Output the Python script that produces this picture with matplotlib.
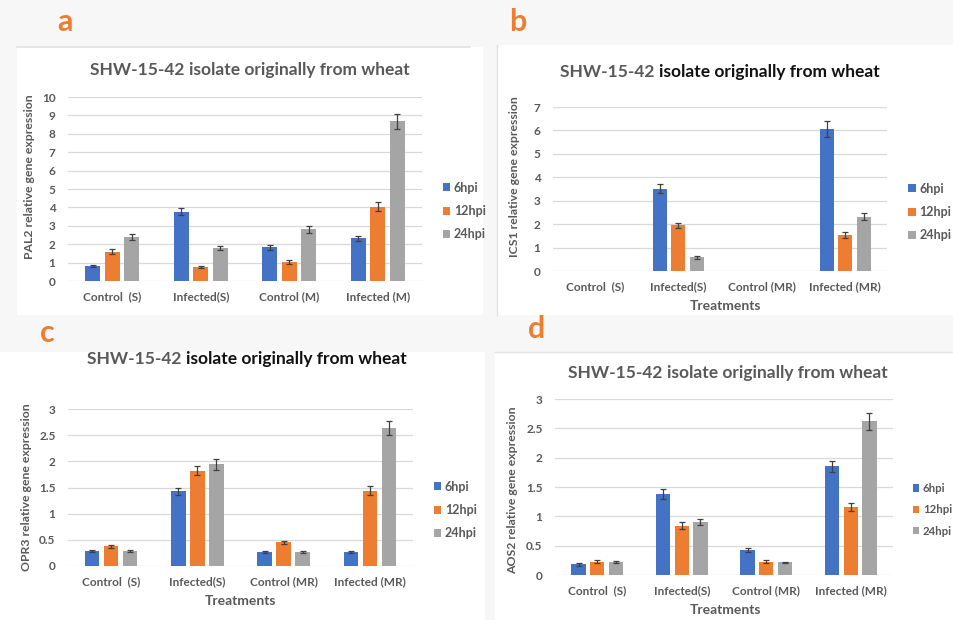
import matplotlib.pyplot as plt
import numpy as np
from matplotlib.patches import Rectangle
from matplotlib.lines import Line2D

plt.rcParams["font.family"] = ["Lato", "DejaVu Sans"]

C_BLUE = "#4472C4"
C_ORANGE = "#ED7D31"
C_GREY = "#A5A5A5"
C_TEXT = "#595959"
C_GRID = "#D9D9D9"
C_ERR = "#404040"

series = ["6hpi", "12hpi", "24hpi"]
colors = [C_BLUE, C_ORANGE, C_GREY]

cats_a = ["Control  (S)", "Infected(S)", "Control (M)", "Infected (M)"]
cats_mr = ["Control  (S)", "Infected(S)", "Control (MR)", "Infected (MR)"]

# PAL2 (panel a): rows = treatments, cols = 6/12/24 hpi
pal2 = [[0.83, 1.60, 2.40], [3.77, 0.76, 1.78], [1.83, 1.02, 2.81], [2.32, 4.03, 8.67]]
pal2_err = [[0.06, 0.14, 0.16], [0.20, 0.05, 0.12], [0.12, 0.10, 0.20], [0.15, 0.25, 0.42]]

# ICS1 (panel b)
ics1 = [[0, 0, 0], [3.52, 1.95, 0.58], [0, 0, 0], [6.05, 1.52, 2.32]]
ics1_err = [[0, 0, 0], [0.21, 0.12, 0.05], [0, 0, 0], [0.35, 0.13, 0.16]]

# OPR3 (panel c)
opr3 = [[0.29, 0.38, 0.29], [1.43, 1.82, 1.94], [0.26, 0.45, 0.26], [0.26, 1.44, 2.64]]
opr3_err = [[0.02, 0.03, 0.02], [0.07, 0.09, 0.10], [0.02, 0.03, 0.02], [0.02, 0.09, 0.14]]

# AOS2 (panel d)
aos2 = [[0.18, 0.23, 0.22], [1.38, 0.84, 0.90], [0.43, 0.23, 0.22], [1.85, 1.16, 2.62]]
aos2_err = [[0.02, 0.02, 0.02], [0.08, 0.06, 0.05], [0.03, 0.02, 0.01], [0.10, 0.07, 0.14]]

W, H = 954, 620


def px_axes(fig, x0, x1, y_bot, y_top):
    return fig.add_axes([x0 / W, (H - y_bot) / H, (x1 - x0) / W, (y_bot - y_top) / H])


def draw_panel(ax, cats, values, errs, ymax, ystep, ylabel, ylab_xy, xlabel, xlab_xy, legend_xy,
               leg_size=9):
    values = np.array(values)
    errs = np.array(errs)
    x = np.arange(len(cats))
    offsets = [-0.22, 0.0, 0.22]
    for k, (name, color) in enumerate(zip(series, colors)):
        ax.bar(x + offsets[k], values[:, k], width=0.17, color=color, label=name, zorder=3)
        shown = values[:, k] > 0
        ax.errorbar(x[shown] + offsets[k], values[shown, k], yerr=errs[shown, k], fmt="none",
                    ecolor=C_ERR, elinewidth=0.9, capsize=2.5, capthick=0.9, zorder=4)
    ax.set_xlim(-0.5, len(cats) - 0.5)
    ax.set_ylim(0, ymax)
    ticks = np.arange(0, ymax + ystep / 2, ystep)
    ax.set_yticks(ticks)
    ax.set_yticklabels([f"{t:g}" for t in ticks])
    ax.set_xticks(x)
    ax.set_xticklabels(cats)
    ax.grid(axis="y", color=C_GRID, lw=0.9, zorder=0)
    ax.set_axisbelow(True)
    for s in ax.spines.values():
        s.set_visible(False)
    ax.tick_params(axis="y", length=0, colors=C_TEXT, labelsize=8.5, pad=9)
    ax.tick_params(axis="x", length=0, colors=C_TEXT, labelsize=8.5, pad=7)
    for lab in ax.get_xticklabels() + ax.get_yticklabels():
        lab.set_fontweight("bold")
    ax.set_ylabel(ylabel, fontsize=8.8, color=C_TEXT, fontweight="bold")
    ax.yaxis.set_label_coords(*ylab_xy)
    ax.yaxis.label.set_va("center")
    if xlabel:
        ax.set_xlabel(xlabel, fontsize=10, color=C_TEXT, fontweight="bold")
        ax.xaxis.set_label_coords(*xlab_xy)
        ax.xaxis.label.set_va("center")
    leg = ax.legend(loc="center left", bbox_to_anchor=legend_xy, frameon=False, fontsize=leg_size,
                    handlelength=0.6, handleheight=0.6, handletextpad=0.3, labelspacing=0.9,
                    borderpad=0, borderaxespad=0)
    for t in leg.get_texts():
        t.set_color(C_TEXT)
        t.set_fontweight("bold")


def draw_title(fig, xc, y, first_black):
    # grey "SHW-15-42" then the rest, either grey or black
    part1 = "SHW-15-42 "
    part2 = "isolate originally from wheat"
    t1 = fig.text(0, 0, part1, fontsize=12.5, fontweight="bold", color=C_TEXT)
    t2 = fig.text(0, 0, part2, fontsize=12.5, fontweight="bold",
                  color="#111111" if first_black else C_TEXT)
    fig.canvas.draw()
    r = fig.canvas.get_renderer()
    w1 = t1.get_window_extent(r).width
    w2 = t2.get_window_extent(r).width
    left = xc - (w1 + w2) / 2
    t1.set_position((left / W, (H - y) / H))
    t2.set_position(((left + w1) / W, (H - y) / H))
    t1.set_va("center")
    t2.set_va("center")


fig = plt.figure(figsize=(9.54, 6.2), dpi=100, facecolor="#F7F7F7")

# white panel boxes and thin separators
for (x0, y0, x1, y1) in [(17, 47, 483, 315), (497, 45, 954, 315), (0, 352, 485, 620), (495, 352, 954, 620)]:
    fig.patches.append(Rectangle((x0 / W, (H - y1) / H), (x1 - x0) / W, (y1 - y0) / H,
                                 transform=fig.transFigure, facecolor="white", edgecolor="none", zorder=-5))
fig.lines.append(Line2D([17 / W, 470 / W], [(H - 47) / H] * 2, transform=fig.transFigure,
                        color="#E2E2E2", lw=1.2, zorder=-4))
fig.lines.append(Line2D([497 / W] * 2, [(H - 45) / H, (H - 315) / H], transform=fig.transFigure,
                        color="#E2E2E2", lw=1.0, zorder=-4))
fig.lines.append(Line2D([495 / W, 954 / W], [(H - 352) / H] * 2, transform=fig.transFigure,
                        color="#E2E2E2", lw=1.0, zorder=-4))

ax_a = px_axes(fig, 68, 422, 281, 97)
draw_panel(ax_a, cats_a, pal2, pal2_err, 10, 1, "PAL2 relative gene expression", (-0.110, 0.565),
           None, None, (1.058, 0.38))

ax_b = px_axes(fig, 553, 887, 271, 107)
draw_panel(ax_b, cats_mr, ics1, ics1_err, 7, 1, "ICS1 relative gene expression", (-0.114, 0.573),
           "Treatments", (0.515, -0.213), (1.063, 0.36))

ax_c = px_axes(fig, 68, 413, 566, 409)
draw_panel(ax_c, cats_mr, opr3, opr3_err, 3, 0.5, "OPR3 relative gene expression", (-0.119, 0.50),
           "Treatments", (0.499, -0.223), (1.06, 0.357))

ax_d = px_axes(fig, 555, 893, 575, 399)
draw_panel(ax_d, cats_mr, aos2, aos2_err, 3, 0.5, "AOS2 relative gene expression", (-0.127, 0.48),
           "Treatments", (0.503, -0.199), (1.058, 0.37), leg_size=8.2)

for ax in (ax_a, ax_b, ax_c, ax_d):
    ax.patch.set_alpha(0)

draw_title(fig, 250, 70, False)
draw_title(fig, 720, 72, True)
draw_title(fig, 247, 359, True)
draw_title(fig, 728, 373, False)

for lab, (px, py) in zip("abcd", [(65, 22), (518, 22), (47, 333), (537, 329)]):
    fig.text(px / W, (H - py) / H, lab, fontsize=22, fontweight="bold", color=C_ORANGE,
             ha="center", va="center")

fig.savefig("out.png", dpi=100, facecolor=fig.get_facecolor())
